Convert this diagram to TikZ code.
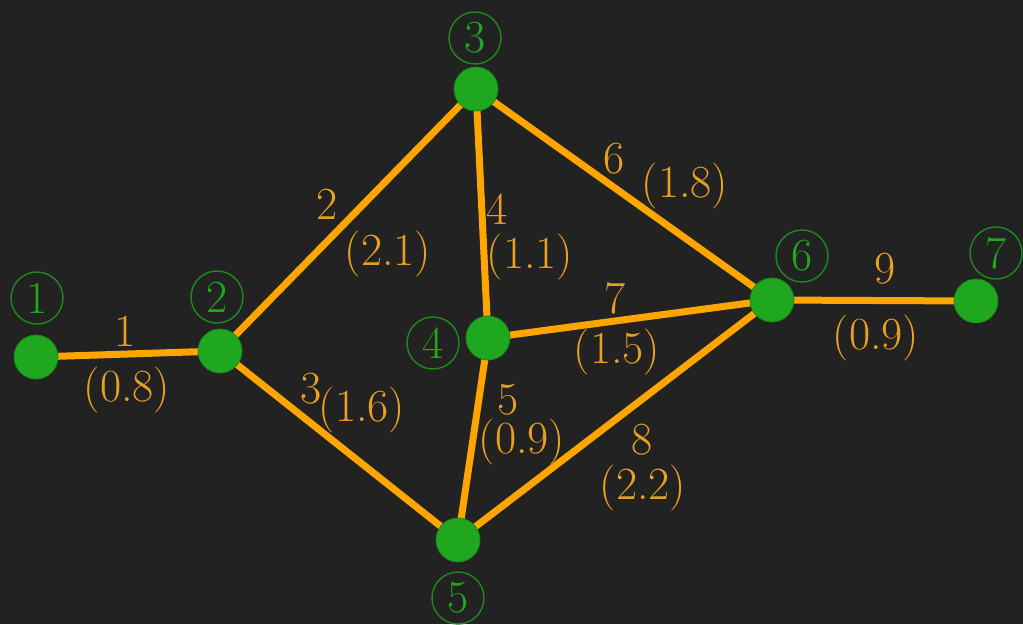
\documentclass[tikz,border=0pt]{standalone}
\usepackage{fontspec}
\setmainfont{Latin Modern Roman}
\definecolor{bg}{HTML}{222222}
\definecolor{vert}{HTML}{1FA81F}
\definecolor{vertline}{HTML}{1E8A1E}
\definecolor{edgec}{HTML}{FFA500}
\definecolor{labc}{HTML}{E8A020}
\tikzset{
  vtx/.style={circle, fill=vert, draw=vert!80!black, line width=0.8pt, minimum size=44pt, inner sep=0pt},
  vnum/.style={circle, draw=vertline, line width=1.4pt, text=vert, minimum size=52pt, inner sep=0pt, font=\fontsize{46}{50}\selectfont},
  elab/.style={text=labc, inner sep=0pt, font=\fontsize{46}{50}\selectfont},
  edg/.style={draw=edgec, line width=7pt}
}
\begin{document}
\begin{tikzpicture}[x=1pt,y=-1pt]
\fill[bg] (0,0) rectangle (1023,624);
\useasboundingbox (0,0) rectangle (1023,624);
% vertices (positions)
\coordinate (p1) at (36,357);
\coordinate (p2) at (220,351);
\coordinate (p3) at (476,89);
\coordinate (p4) at (488,338);
\coordinate (p5) at (458,540);
\coordinate (p6) at (772,300);
\coordinate (p7) at (976,301);
% edges
\draw[edg] (p1) -- (p2);
\draw[edg] (p2) -- (p3);
\draw[edg] (p2) -- (p5);
\draw[edg] (p3) -- (p4);
\draw[edg] (p4) -- (p5);
\draw[edg] (p3) -- (p6);
\draw[edg] (p4) -- (p6);
\draw[edg] (p5) -- (p6);
\draw[edg] (p6) -- (p7);
% vertex discs
\node[vtx] (n1) at (p1) {};
\node[vtx] (n2) at (p2) {};
\node[vtx] (n3) at (p3) {};
\node[vtx] (n4) at (p4) {};
\node[vtx] (n5) at (p5) {};
\node[vtx] (n6) at (p6) {};
\node[vtx] (n7) at (p7) {};
% circled vertex numbers
\node[vnum] (c1) at (37,298) {1};
\node[vnum] (c2) at (217,297) {2};
\node[vnum] (c3) at (475,38) {3};
\node[vnum] (c4) at (433,343) {4};
\node[vnum] (c5) at (458,598) {5};
\node[vnum] (c6) at (802,256) {6};
\node[vnum] (c7) at (996,253) {7};
% edge labels
\node[elab] (e1) at (125,331) {1};
\node[elab] (w1) at (127,390) {(0.8)};
\node[elab] (e2) at (327,204) {2};
\node[elab] (w2) at (388,254) {(2.1)};
\node[elab] (e3) at (311,389) {3};
\node[elab] (w3) at (362,410) {(1.6)};
\node[elab] (e4) at (497,209) {4};
\node[elab] (w4) at (530,257) {(1.1)};
\node[elab] (e5) at (508,400) {5};
\node[elab] (w5) at (522,442) {(0.9)};
\node[elab] (e6) at (614,159) {6};
\node[elab] (w6) at (685,186) {(1.8)};
\node[elab] (e7) at (615,298) {7};
\node[elab] (w7) at (617,352) {(1.5)};
\node[elab] (e8) at (642,440) {8};
\node[elab] (w8) at (643,488) {(2.2)};
\node[elab] (e9) at (885,269) {9};
\node[elab] (w9) at (876,338) {(0.9)};
\end{tikzpicture}
\end{document}
